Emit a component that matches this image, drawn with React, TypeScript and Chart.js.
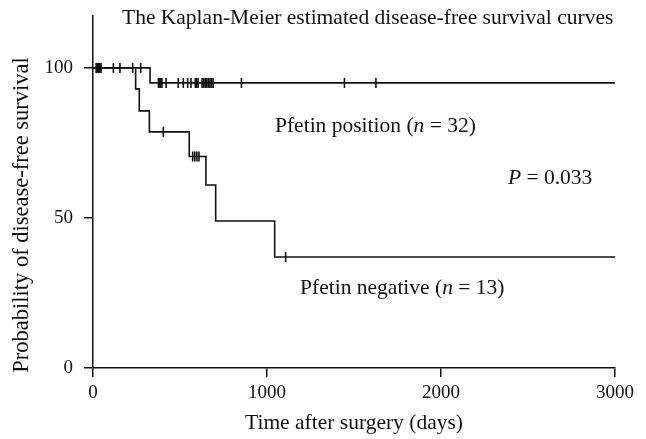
import React, { useEffect, useRef } from "react";
import { Chart, registerables } from "chart.js";

Chart.register(...registerables);

// ---------- data ----------
const xTickValues = [0, 1000, 2000, 3000];
const yTickValues = [0, 50, 100];

// Pfetin positive group (n = 32): step points (time, survival after step)
const posTimes = [0, 328, 3000];
const posSurvival = [100, 95, 95];
const posCensorTimes = [
  18, 25, 32, 39, 46, 117, 155, 228, 274,
  376, 383, 390, 396, 420, 490, 519, 544, 563,
  588, 596, 604, 627, 636, 645, 654, 663, 672, 681, 690,
  853, 1445, 1626,
];

// Pfetin negative group (n = 13)
const negTimes = [0, 245, 266, 324, 553, 649, 705, 1044, 3000];
const negSurvival = [100, 93, 85.7, 78.7, 70.5, 61, 49, 37, 37];
const negCensorTimes = [404, 573, 585, 597, 609, 1107];

const titleText = "The Kaplan-Meier estimated disease-free survival curves";
const xTitle = "Time after surgery (days)";
const yTitle = "Probability of disease-free survival";
const pValueLabel = "0.033";

const FONT = "'Liberation Serif', 'Times New Roman', serif";
const TEXT_SIZE = 21.5;

function survivalAt(times: number[], surv: number[], t: number): number {
  let v = surv[0];
  for (let i = 0; i < times.length; i++) {
    if (times[i] <= t) v = surv[i];
  }
  return v;
}

type Seg = { text: string; italic?: boolean };

function drawSegs(ctx: CanvasRenderingContext2D, segs: Seg[], x: number, y: number, size: number) {
  let cx = x;
  ctx.textBaseline = "middle";
  ctx.textAlign = "left";
  for (const s of segs) {
    ctx.font = `${s.italic ? "italic " : ""}${size}px ${FONT}`;
    ctx.fillText(s.text, cx, y);
    cx += ctx.measureText(s.text).width;
  }
}

const textPlugin = {
  id: "kmText",
  afterDraw(chart: any) {
    const ctx = chart.ctx as CanvasRenderingContext2D;
    const xs = chart.scales.x;
    const ys = chart.scales.y;
    ctx.save();
    ctx.fillStyle = "#111";
    // title
    drawSegs(ctx, [{ text: titleText }], 122, 18, TEXT_SIZE);
    // y axis title, centred on the 50 % tick
    ctx.save();
    ctx.translate(22, ys.getPixelForValue(50) - 3);
    ctx.rotate(-Math.PI / 2);
    ctx.font = `22.5px ${FONT}`;
    ctx.textAlign = "center";
    ctx.textBaseline = "middle";
    ctx.fillText(yTitle, 0, 0);
    ctx.restore();
    // annotations (positioned in data space)
    drawSegs(
      ctx,
      [{ text: "Pfetin position (" }, { text: "n", italic: true }, { text: " = 32)" }],
      xs.getPixelForValue(1046),
      ys.getPixelForValue(80.6),
      TEXT_SIZE
    );
    drawSegs(
      ctx,
      [{ text: "P", italic: true }, { text: " = " + pValueLabel }],
      xs.getPixelForValue(2385),
      ys.getPixelForValue(63.2),
      TEXT_SIZE
    );
    drawSegs(
      ctx,
      [{ text: "Pfetin negative (" }, { text: "n", italic: true }, { text: " = 13)" }],
      xs.getPixelForValue(1190),
      ys.getPixelForValue(26.5),
      TEXT_SIZE
    );
    ctx.restore();
  },
};

export default function App() {
  const ref = useRef<HTMLCanvasElement | null>(null);

  useEffect(() => {
    if (!ref.current) return;
    const posLine = posTimes.map((t, i) => ({ x: t, y: posSurvival[i] }));
    const negLine = negTimes.map((t, i) => ({ x: t, y: negSurvival[i] }));
    const posCens = posCensorTimes.map((t) => ({ x: t, y: survivalAt(posTimes, posSurvival, t) }));
    const negCens = negCensorTimes.map((t) => ({ x: t, y: survivalAt(negTimes, negSurvival, t) }));

    const lineStyle = {
      borderColor: "#111",
      borderWidth: 1.6,
      pointRadius: 0,
      stepped: true as const,
      fill: false,
    };
    const censorStyle = {
      type: "scatter" as const,
      borderColor: "#111",
      backgroundColor: "#111",
      pointStyle: "line" as const,
      pointRotation: 90,
      pointRadius: 5,
      pointBorderWidth: 1.6,
      showLine: false,
    };

    const chart = new Chart(ref.current, {
      type: "line",
      data: {
        datasets: [
          { ...lineStyle, label: "Pfetin positive", data: posLine },
          { ...lineStyle, label: "Pfetin negative", data: negLine },
          { ...censorStyle, label: "positive censored", data: posCens },
          { ...censorStyle, label: "negative censored", data: negCens },
        ] as any,
      },
      options: {
        responsive: false,
        animation: false,
        layout: { padding: { top: 16, right: 31, left: 0, bottom: 0 } },
        plugins: {
          legend: { display: false },
          tooltip: { enabled: false },
          title: { display: false },
        },
        scales: {
          x: {
            type: "linear",
            min: 0,
            max: 3000,
            afterBuildTicks: (s: any) => {
              s.ticks = xTickValues.map((v) => ({ value: v }));
            },
            afterFit: (s: any) => {
              s.height = 71;
            },
            ticks: {
              color: "#111",
              font: { family: FONT, size: 19 },
              padding: 5,
              maxRotation: 0,
              callback: (v: any) => String(v),
            },
            grid: {
              drawOnChartArea: false,
              drawTicks: true,
              tickLength: 9,
              color: "#111",
              lineWidth: 1.5,
            },
            border: { display: true, color: "#111", width: 1.5 },
            title: {
              display: true,
              text: xTitle,
              color: "#111",
              font: { family: FONT, size: TEXT_SIZE },
              padding: { top: 0, bottom: 3 },
            },
          },
          y: {
            type: "linear",
            min: 0,
            max: 117.3,
            afterBuildTicks: (s: any) => {
              s.ticks = yTickValues.map((v) => ({ value: v }));
            },
            afterFit: (s: any) => {
              s.width = 93;
              s.paddingTop = 0;
              s.paddingBottom = 0;
            },
            ticks: {
              color: "#111",
              font: { family: FONT, size: 19 },
              padding: 11,
              callback: (v: any) => String(v),
            },
            grid: {
              drawOnChartArea: false,
              drawTicks: true,
              tickLength: 9,
              color: "#111",
              lineWidth: 1.5,
            },
            border: { display: true, color: "#111", width: 1.5 },
            title: { display: false },
          },
        },
      },
      plugins: [textPlugin],
    });
    return () => chart.destroy();
  }, []);

  return (
    <div style={{ position: "absolute", left: 0, top: 0, width: 646, height: 439, background: "#fff" }}>
      <canvas ref={ref} width={646} height={439} style={{ display: "block" }} />
    </div>
  );
}
